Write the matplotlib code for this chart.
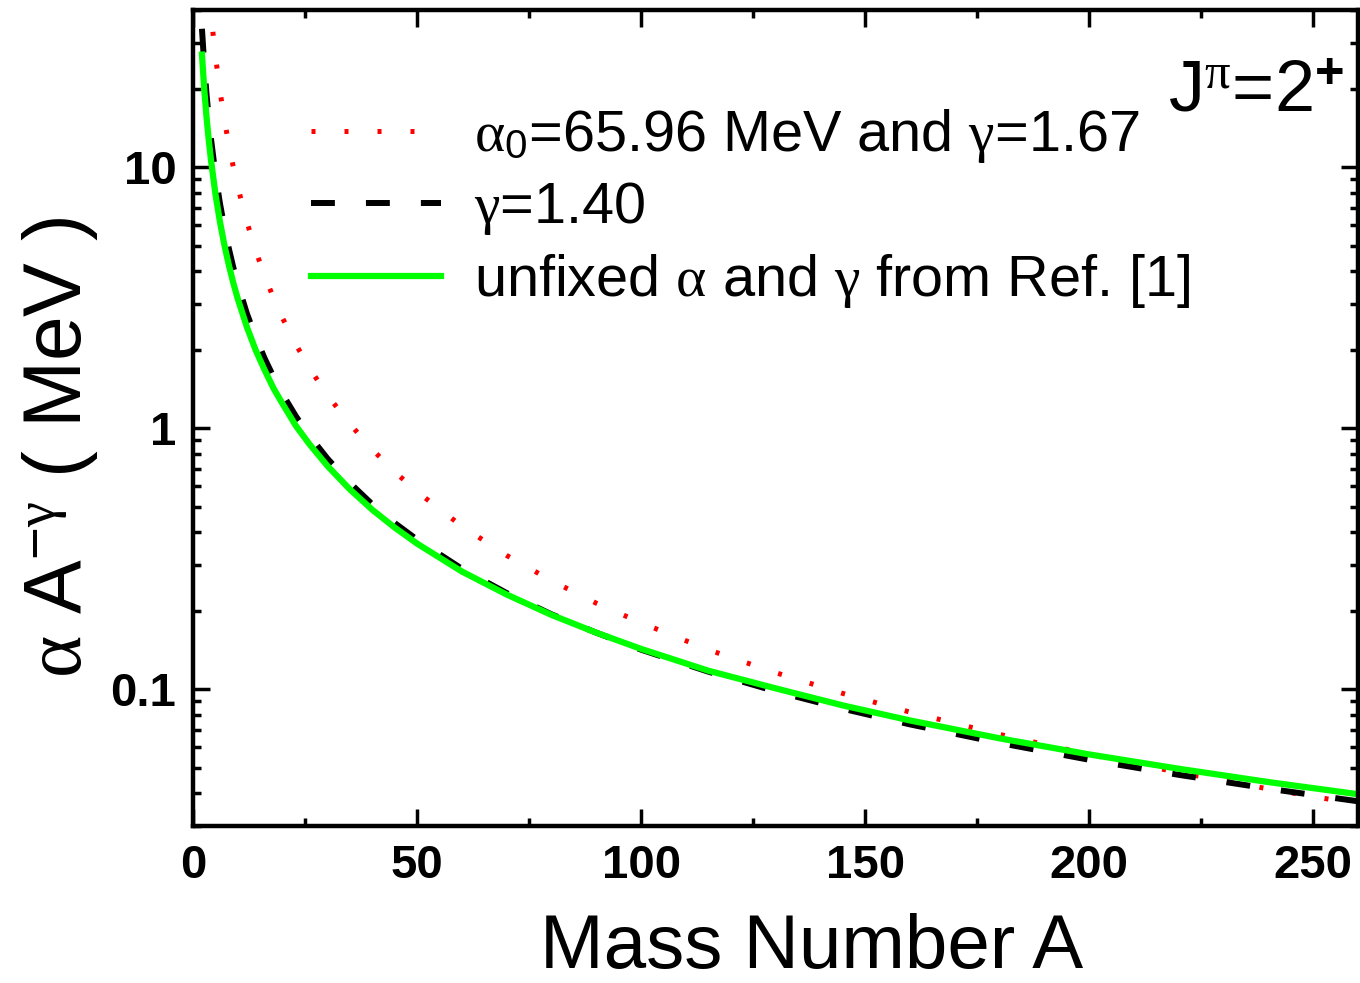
import matplotlib
matplotlib.use("Agg")
import matplotlib.pyplot as plt
from matplotlib.ticker import FixedLocator, LogLocator, NullFormatter, FixedFormatter

plt.rcParams['font.family'] = ['Liberation Sans', 'DejaVu Sans']
plt.rcParams['mathtext.fontset'] = 'custom'
plt.rcParams['mathtext.rm'] = 'Liberation Serif'
plt.rcParams['mathtext.it'] = 'Liberation Serif:italic'
plt.rcParams['mathtext.sf'] = 'Liberation Sans'
plt.rcParams['mathtext.bf'] = 'Liberation Sans:bold'

# ---- data ----
mass_A = [2, 2.5, 3, 3.5, 4, 5, 6, 7, 8, 9, 10, 12, 14, 16, 18, 20, 23, 26, 30, 35,
          40, 45, 50, 60, 70, 80, 90, 100, 115, 130, 145, 160, 180, 200, 220, 240, 260]

red_A = [3, 3.5, 4, 5, 6, 7, 8, 9, 10, 12, 14, 16, 18, 20, 23, 26, 30, 35,
         40, 45, 50, 60, 70, 80, 90, 100, 115, 130, 145, 160, 180, 200, 220, 240, 260]
red_vals = [62.8, 48.5, 38.8, 26.7, 19.7, 15.2, 12.2, 10.0, 8.40, 6.19, 4.79, 3.83, 3.15,
            2.64, 2.09, 1.70, 1.34, 1.04, 0.830, 0.682, 0.572, 0.422, 0.326, 0.261, 0.214,
            0.180, 0.142, 0.116, 0.0966, 0.0819, 0.0673, 0.0564, 0.0481, 0.0416, 0.0364]

black_vals = [33.9, 24.8, 19.2, 15.5, 12.9, 9.42, 7.29, 5.88, 4.88, 4.13, 3.57, 2.76, 2.23,
              1.85, 1.57, 1.35, 1.11, 0.936, 0.766, 0.618, 0.512, 0.434, 0.375, 0.290,
              0.234, 0.194, 0.165, 0.142, 0.117, 0.0984, 0.0844, 0.0735, 0.0624, 0.0538,
              0.0471, 0.0417, 0.0373]

green_vals = [27.0, 20.0, 15.7, 12.8, 10.7, 7.91, 6.20, 5.04, 4.22, 3.60, 3.13, 2.45, 1.99,
              1.67, 1.42, 1.24, 1.02, 0.869, 0.718, 0.584, 0.488, 0.417, 0.362, 0.283,
              0.231, 0.193, 0.165, 0.143, 0.118, 0.101, 0.0869, 0.0761, 0.0650, 0.0564,
              0.0497, 0.0442, 0.0397]

labels = [r'$\mathrm{\alpha}_{\mathsf{0}}$=65.96 MeV and $\mathrm{\gamma}$=1.67',
          r'$\mathrm{\gamma}$=1.40',
          r'unfixed $\mathrm{\alpha}$ and $\mathrm{\gamma}$ from Ref. [1]']

x_ticks = [0, 50, 100, 150, 200, 250]
y_ticks = [0.1, 1, 10]
y_ticklabels = ['0.1', '1', '10']

W, H, DPI = 1360, 983, 100
fig = plt.figure(figsize=(W / DPI, H / DPI), dpi=DPI)
ax = fig.add_axes([193 / W, 1 - 826 / H, (1358 - 193) / W, (826 - 10) / H])

ax.plot(red_A, red_vals, color='#FF0000', lw=3.6, linestyle=(0, (0.8, 5.8)),
        label=labels[0])
ax.plot(mass_A, black_vals, color='black', lw=4.3, linestyle=(0, (4.0, 5.2)),
        label=labels[1])
ax.plot(mass_A, green_vals, color='#00FF00', lw=4.5, label=labels[2])

ax.set_yscale('log')
ax.set_xlim(0, 260)
ax.set_ylim(0.03, 40)

ax.xaxis.set_major_locator(FixedLocator(x_ticks))
ax.xaxis.set_minor_locator(FixedLocator([25, 75, 125, 175, 225]))
ax.yaxis.set_major_locator(FixedLocator(y_ticks))
ax.yaxis.set_major_formatter(FixedFormatter(y_ticklabels))
ax.yaxis.set_minor_locator(LogLocator(base=10, subs=[2, 3, 4, 5, 6, 7, 8, 9]))
ax.yaxis.set_minor_formatter(NullFormatter())

for s in ax.spines.values():
    s.set_linewidth(3.2)

ax.tick_params(which='both', direction='in', top=True, right=True, width=2.5)
ax.tick_params(which='major', length=12)
ax.tick_params(which='minor', length=6)
ax.tick_params(axis='x', which='major', pad=13)
ax.tick_params(axis='y', which='major', pad=12)
for lab in ax.get_xticklabels() + ax.get_yticklabels():
    lab.set_fontweight('bold')
    lab.set_fontsize(34)

ax.set_xlabel('Mass Number A', fontsize=55)
ax.xaxis.label.set_va('baseline')
ax.xaxis.set_label_coords((812 - 193) / 1165, (826 - 968) / 816)

ax.set_ylabel(r'$\mathrm{\alpha}$ A$^{\mathsf{-}\mathrm{\gamma}}$ ( MeV )', fontsize=58)
ax.yaxis.label.set_va('center')
ax.yaxis.label.set_ha('center')
ax.yaxis.set_label_coords((60 - 193) / 1165, (826 - 447) / 816)

leg = ax.legend(loc='upper left', bbox_to_anchor=(311 / W, 1 - 107 / H),
                bbox_transform=fig.transFigure, frameon=False, fontsize=41.5,
                borderpad=0, borderaxespad=0, handlelength=2.25, handletextpad=0.58,
                labelspacing=0.26)

ax.text(1168 / W, 1 - 112 / H, r'J$^{\mathrm{\pi}}$=2$^{\mathbf{+}}$', fontsize=52,
        transform=fig.transFigure, ha='left', va='baseline')

fig.savefig('out.png', dpi=DPI)
